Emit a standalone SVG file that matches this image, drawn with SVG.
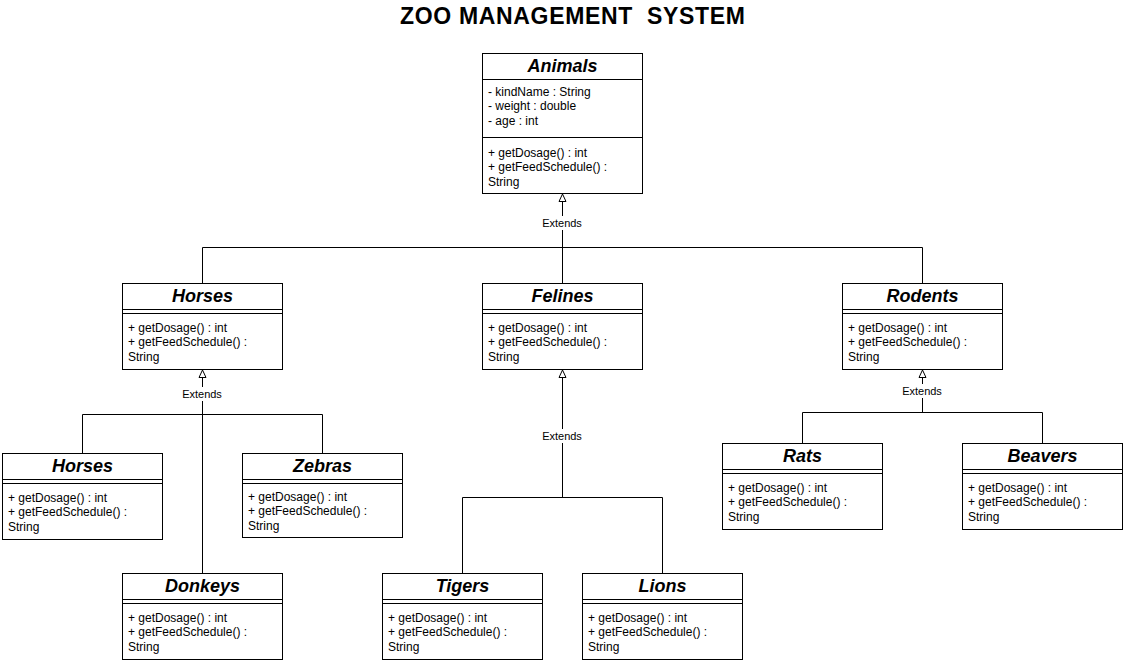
<svg xmlns="http://www.w3.org/2000/svg" width="1125" height="663" viewBox="0 0 1125 663">
<style>
.box{fill:#fff;stroke:#000;stroke-width:1}
.ln{stroke:#000;stroke-width:1;fill:none}
.name{font-family:"Liberation Sans",Arial,sans-serif;font-size:18px;font-weight:bold;font-style:italic;text-anchor:middle;fill:#000}
.mem{font-family:"Liberation Sans",Arial,sans-serif;font-size:12px;fill:#000}
.lbl{font-family:"Liberation Sans",Arial,sans-serif;font-size:11px;fill:#000;text-anchor:middle}
.title{font-family:"Liberation Sans",Arial,sans-serif;font-size:23px;font-weight:bold;fill:#000;white-space:pre}
.tri{fill:#fff;stroke:#000;stroke-width:1}
</style>
<rect width="1125" height="663" fill="#fff"/>
<text class="title" x="400" y="24" textLength="345" lengthAdjust="spacing" xml:space="preserve">ZOO MANAGEMENT  SYSTEM</text>

<g id="connectors">
  <path class="ln" d="M562.5 201V247.5M202.5 283V247.5H922.5V283M562.5 247.5V283"/>
  <path class="ln" d="M202.5 377V573M82.5 453V414.5H322.5V453"/>
  <path class="ln" d="M562.5 377V497.5M462.5 573V497.5H662.5V573"/>
  <path class="ln" d="M922.5 377V412.5M802.5 443V412.5H1042.5V443"/>
  <polygon class="tri" points="562.5,194 566,201.5 559,201.5"/>
  <polygon class="tri" points="202.5,370 206,377.5 199,377.5"/>
  <polygon class="tri" points="562.5,370 566,377.5 559,377.5"/>
  <polygon class="tri" points="922.5,370 926,377.5 919,377.5"/>
  <rect x="538" y="216" width="49" height="14" fill="#fff"/>
  <text class="lbl" x="562" y="227">Extends</text>
  <rect x="178" y="387" width="49" height="14" fill="#fff"/>
  <text class="lbl" x="202" y="398">Extends</text>
  <rect x="538" y="429" width="49" height="14" fill="#fff"/>
  <text class="lbl" x="562" y="440">Extends</text>
  <rect x="898" y="384" width="49" height="14" fill="#fff"/>
  <text class="lbl" x="922" y="395">Extends</text>
</g>

<g id="animals">
  <rect class="box" x="482.5" y="53.5" width="160" height="140"/>
  <path class="ln" d="M482.5 79.5H642.5M482.5 137.5H642.5"/>
  <text class="name" x="562.5" y="72">Animals</text>
  <text class="mem" x="488" y="96">- kindName : String</text>
  <text class="mem" x="488" y="110">- weight : double</text>
  <text class="mem" x="488" y="125">- age : int</text>
  <text class="mem" x="488" y="157">+ getDosage() : int</text>
  <text class="mem" x="488" y="171">+ getFeedSchedule() :</text>
  <text class="mem" x="488" y="186">String</text>
</g>

<g id="horses-group">
  <rect class="box" x="122.5" y="283.5" width="160" height="86"/>
  <path class="ln" d="M122.5 309.5H282.5M122.5 313.5H282.5"/>
  <text class="name" x="202.5" y="302">Horses</text>
  <text class="mem" x="128" y="332">+ getDosage() : int</text>
  <text class="mem" x="128" y="346">+ getFeedSchedule() :</text>
  <text class="mem" x="128" y="361">String</text>
</g>

<g id="felines">
  <rect class="box" x="482.5" y="283.5" width="160" height="86"/>
  <path class="ln" d="M482.5 309.5H642.5M482.5 313.5H642.5"/>
  <text class="name" x="562.5" y="302">Felines</text>
  <text class="mem" x="488" y="332">+ getDosage() : int</text>
  <text class="mem" x="488" y="346">+ getFeedSchedule() :</text>
  <text class="mem" x="488" y="361">String</text>
</g>

<g id="rodents">
  <rect class="box" x="842.5" y="283.5" width="160" height="86"/>
  <path class="ln" d="M842.5 309.5H1002.5M842.5 313.5H1002.5"/>
  <text class="name" x="922.5" y="302">Rodents</text>
  <text class="mem" x="848" y="332">+ getDosage() : int</text>
  <text class="mem" x="848" y="346">+ getFeedSchedule() :</text>
  <text class="mem" x="848" y="361">String</text>
</g>

<g id="horses">
  <rect class="box" x="2.5" y="453.5" width="160" height="86"/>
  <path class="ln" d="M2.5 479.5H162.5M2.5 483.5H162.5"/>
  <text class="name" x="82.5" y="472">Horses</text>
  <text class="mem" x="8" y="502">+ getDosage() : int</text>
  <text class="mem" x="8" y="516">+ getFeedSchedule() :</text>
  <text class="mem" x="8" y="531">String</text>
</g>

<g id="zebras">
  <rect class="box" x="242.5" y="453.5" width="160" height="84"/>
  <path class="ln" d="M242.5 479.5H402.5M242.5 483.5H402.5"/>
  <text class="name" x="322.5" y="472">Zebras</text>
  <text class="mem" x="248" y="501">+ getDosage() : int</text>
  <text class="mem" x="248" y="515">+ getFeedSchedule() :</text>
  <text class="mem" x="248" y="530">String</text>
</g>

<g id="donkeys">
  <rect class="box" x="122.5" y="573.5" width="160" height="86"/>
  <path class="ln" d="M122.5 599.5H282.5M122.5 603.5H282.5"/>
  <text class="name" x="202.5" y="592">Donkeys</text>
  <text class="mem" x="128" y="622">+ getDosage() : int</text>
  <text class="mem" x="128" y="636">+ getFeedSchedule() :</text>
  <text class="mem" x="128" y="651">String</text>
</g>

<g id="tigers">
  <rect class="box" x="382.5" y="573.5" width="160" height="86"/>
  <path class="ln" d="M382.5 599.5H542.5M382.5 603.5H542.5"/>
  <text class="name" x="462.5" y="592">Tigers</text>
  <text class="mem" x="388" y="622">+ getDosage() : int</text>
  <text class="mem" x="388" y="636">+ getFeedSchedule() :</text>
  <text class="mem" x="388" y="651">String</text>
</g>

<g id="lions">
  <rect class="box" x="582.5" y="573.5" width="160" height="86"/>
  <path class="ln" d="M582.5 599.5H742.5M582.5 603.5H742.5"/>
  <text class="name" x="662.5" y="592">Lions</text>
  <text class="mem" x="588" y="622">+ getDosage() : int</text>
  <text class="mem" x="588" y="636">+ getFeedSchedule() :</text>
  <text class="mem" x="588" y="651">String</text>
</g>

<g id="rats">
  <rect class="box" x="722.5" y="443.5" width="160" height="86"/>
  <path class="ln" d="M722.5 469.5H882.5M722.5 473.5H882.5"/>
  <text class="name" x="802.5" y="462">Rats</text>
  <text class="mem" x="728" y="492">+ getDosage() : int</text>
  <text class="mem" x="728" y="506">+ getFeedSchedule() :</text>
  <text class="mem" x="728" y="521">String</text>
</g>

<g id="beavers">
  <rect class="box" x="962.5" y="443.5" width="160" height="86"/>
  <path class="ln" d="M962.5 469.5H1122.5M962.5 473.5H1122.5"/>
  <text class="name" x="1042.5" y="462">Beavers</text>
  <text class="mem" x="968" y="492">+ getDosage() : int</text>
  <text class="mem" x="968" y="506">+ getFeedSchedule() :</text>
  <text class="mem" x="968" y="521">String</text>
</g>
</svg>
